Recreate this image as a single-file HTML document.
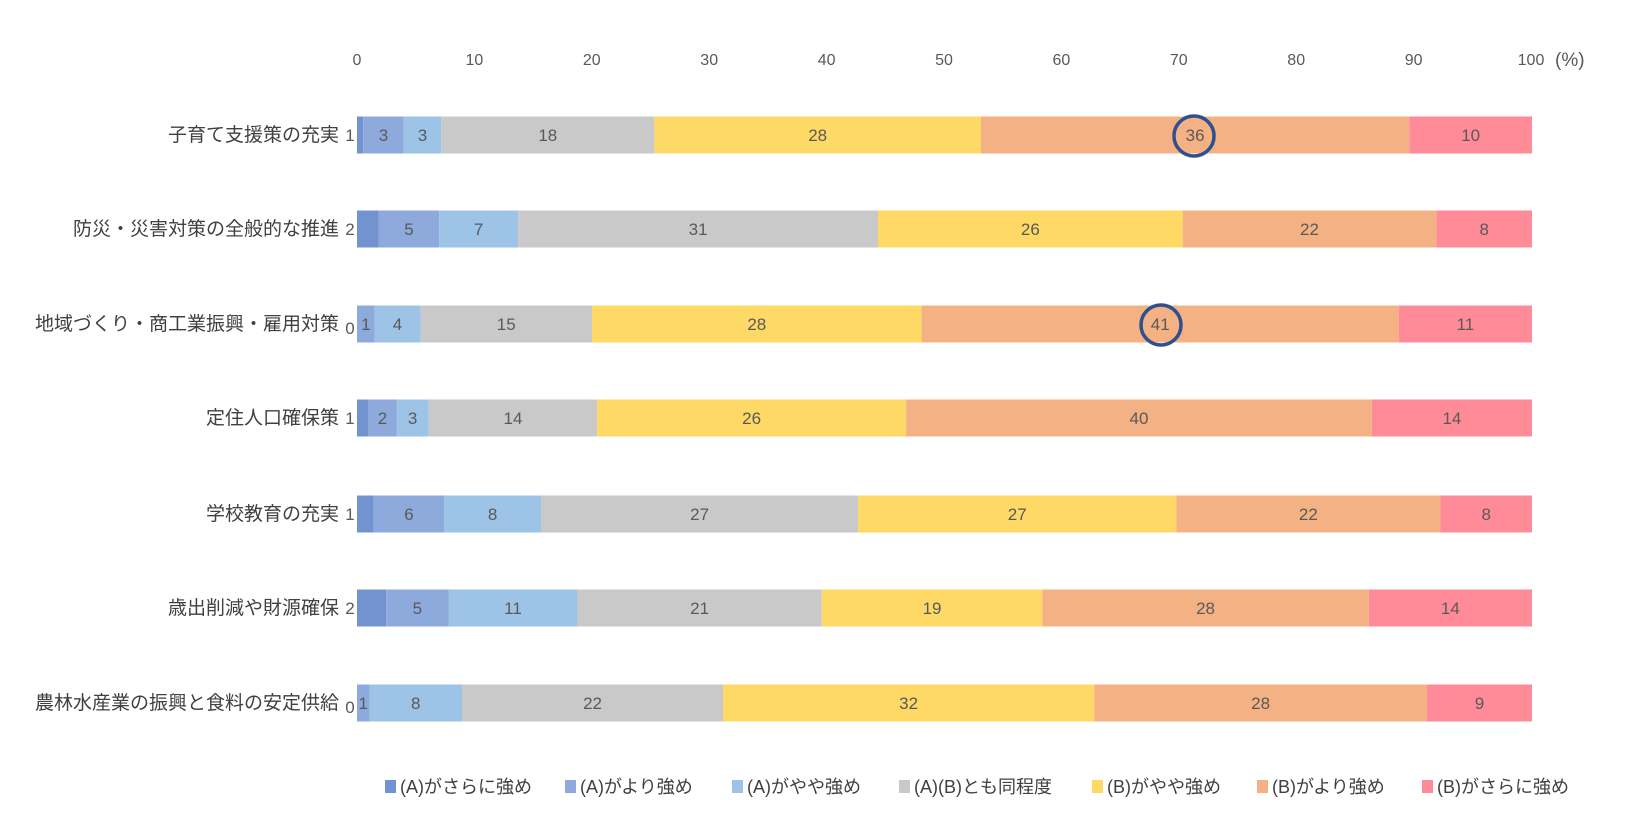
<!DOCTYPE html>
<html><head><meta charset="utf-8"><style>
body{margin:0;background:#fff}
text{font-family:"Liberation Sans","Noto Sans CJK JP",sans-serif;fill:#595959}
.l{font-size:19px;fill:#404040}
.g{font-size:18px;fill:#404040}
</style></head><body>
<svg width="1632" height="829" xmlns="http://www.w3.org/2000/svg" id="s"></svg>
<script>
const s=document.getElementById('s');
const X0=357,W=1175,H=37;
const cols=['#7393d0','#8eaadc','#9dc3e6','#c9c9c9','#ffd966','#f4b183','#ff8b98'];
const rows=[
["子育て支援策の充実",135,[.0053,.0398,.0717,.2531,.5310,.8956],["1","3","3","18","28","36","10"]],
["防災・災害対策の全般的な推進",229,[.0186,.0699,.1372,.4434,.7027,.9186],["2","5","7","31","26","22","8"]],
["地域づくり・商工業振興・雇用対策",324,[0,.0150,.0540,.2000,.4805,.8867],["0","1","4","15","28","41","11"]],
["定住人口確保策",418,[.0097,.0336,.0611,.2044,.4673,.8637],["1","2","3","14","26","40","14"]],
["学校教育の充実",514,[.0142,.0743,.1566,.4265,.6973,.9221],["1","6","8","27","27","22","8"]],
["歳出削減や財源確保",608,[.0248,.0779,.1876,.3956,.5832,.8611],["2","5","11","21","19","28","14"]],
["農林水産業の振興と食料の安定供給",703,[0,.0106,.0894,.3115,.6274,.9106],["0","1","8","22","32","28","9"]]
];
let h='';
for(let i=0;i<=10;i++){h+=`<text x="${X0+i*117.4}" y="65" font-size="16" text-anchor="middle">${i*10}</text>`}
h+=`<text x="1555" y="66" font-size="19">(%)</text>`;
rows.forEach(r=>{
 const [lab,cy,b,v]=r;const bb=[0,...b,1];
 h+=`<text class="l" x="339" y="${cy+6}" text-anchor="end">${lab}</text>`;
 for(let k=0;k<7;k++){
  const x1=X0+bb[k]*W,x2=X0+bb[k+1]*W;
  if(x2-x1>0)h+=`<rect x="${x1}" y="${cy-H/2}" width="${x2-x1}" height="${H}" fill="${cols[k]}"/>`;
  let tx=(x1+x2)/2,ty=cy+6;
  if(k==0){tx=350;if(v[0]=="0")ty=cy+10;}
  h+=`<text x="${tx}" y="${ty}" font-size="17" text-anchor="middle">${v[k]}</text>`;
 }
});
h+=`<circle cx="1194" cy="136" r="20" fill="none" stroke="#2f4f8f" stroke-width="3.5"/>`;
h+=`<circle cx="1161" cy="325" r="20" fill="none" stroke="#2f4f8f" stroke-width="3.5"/>`;
const lg=["(A)がさらに強め","(A)がより強め","(A)がやや強め","(A)(B)とも同程度","(B)がやや強め","(B)がより強め","(B)がさらに強め"];
const lx=[385,565,732,899,1092,1257,1422];
lg.forEach((t,k)=>{h+=`<rect x="${lx[k]}" y="780" width="11" height="13" fill="${cols[k]}"/><text class="g" x="${lx[k]+15}" y="793">${t}</text>`});
s.innerHTML=h;
</script>
</body></html>
